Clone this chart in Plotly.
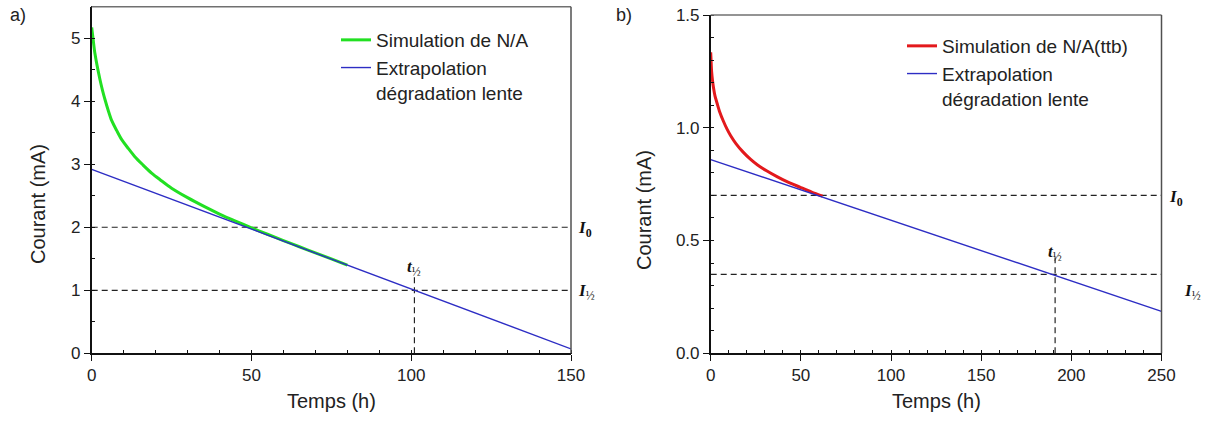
import plotly.graph_objects as go

# ---------------- Panel a) data ----------------
t_a_sim = [0, 0.5, 1, 2.6, 3.4, 4.2, 5.2, 6.2, 7.8, 9.4, 11.5, 13.5, 16, 18.75, 21.5,
           25, 30, 35, 40, 45, 50, 55, 60, 65, 70, 75, 80]
i_a_sim = [5.17, 4.96, 4.76, 4.34, 4.17, 4.02, 3.85, 3.70, 3.537, 3.39, 3.247, 3.12,
           2.991, 2.86, 2.751, 2.62, 2.47, 2.335, 2.21, 2.098, 1.992, 1.889, 1.789,
           1.691, 1.594, 1.497, 1.40]
t_a_ext = [0, 150]
i_a_ext = [2.92, 0.07]
I0_a = 2.0
Ihalf_a = 1.0
thalf_a = 101

# ---------------- Panel b) data ----------------
t_b_sim = [0, 0.2, 0.5, 1, 1.6, 2.4, 3.5, 5, 7, 9, 11, 14, 18, 22, 26, 31, 37, 42,
           50, 56, 62]
i_b_sim = [1.335, 1.30, 1.25, 1.21, 1.175, 1.14, 1.11, 1.07, 1.03, 0.995, 0.966,
           0.930, 0.892, 0.861, 0.835, 0.809, 0.782, 0.762, 0.735, 0.715, 0.697]
t_b_ext = [0, 250]
i_b_ext = [0.859, 0.186]
I0_b = 0.70
Ihalf_b = 0.35
thalf_b = 191

names_a = ["Simulation de N/A", "Extrapolation<br>dégradation lente"]
names_b = ["Simulation de N/A(ttb)", "Extrapolation<br>dégradation lente"]

SANS = "Liberation Sans, Arial, sans-serif"
SERIF = "Liberation Serif, Times New Roman, serif"
W, H = 1206, 421
BLUE = "#2d2dc4"
GREEN = "#22e022"
RED = "#e3191c"
DASH = "#222222"
DASHPAT = "6px,4px"

fig = go.Figure()
fig.add_trace(go.Scatter(x=t_a_sim, y=i_a_sim, mode="lines", name=names_a[0],
                         line=dict(color=GREEN, width=3, shape="spline", smoothing=0.8),
                         xaxis="x", yaxis="y", legend="legend"))
fig.add_trace(go.Scatter(x=t_a_ext, y=i_a_ext, mode="lines", name=names_a[1],
                         line=dict(color=BLUE, width=1.4), xaxis="x", yaxis="y",
                         legend="legend"))
fig.add_trace(go.Scatter(x=t_b_sim, y=i_b_sim, mode="lines", name=names_b[0],
                         line=dict(color=RED, width=3, shape="spline", smoothing=0.8),
                         xaxis="x2", yaxis="y2", legend="legend2"))
fig.add_trace(go.Scatter(x=t_b_ext, y=i_b_ext, mode="lines", name=names_b[1],
                         line=dict(color=BLUE, width=1.4), xaxis="x2", yaxis="y2",
                         legend="legend2"))

def px_x(p):
    return p / W

def px_y(p):
    return (H - p) / H

axis_common = dict(showline=True, linecolor="#111111", linewidth=1.5, mirror=False,
                   showgrid=False, zeroline=False, ticks="outside", ticklen=6,
                   tickwidth=1.3, tickcolor="#111111", automargin=False,
                   tickfont=dict(family=SANS, size=17, color="#222222"))
minor_common = dict(ticks="inside", ticklen=4, tickcolor="#111111", tickwidth=1.2)

fig.update_layout(
    width=W, height=H,
    margin=dict(l=0, r=0, t=0, b=0, autoexpand=False),
    paper_bgcolor="white", plot_bgcolor="white",
    xaxis=dict(domain=[px_x(91.7), px_x(571)], range=[0, 150], anchor="y",
               tickvals=[0, 50, 100, 150], minor=dict(dtick=10, **minor_common),
               **axis_common),
    yaxis=dict(domain=[px_y(353.3), px_y(6.7)], range=[0, 5.5], anchor="x",
               tickvals=[0, 1, 2, 3, 4, 5], minor=dict(dtick=0.5, **minor_common),
               **axis_common),
    xaxis2=dict(domain=[px_x(710.7), px_x(1161.5)], range=[0, 250], anchor="y2",
                tickvals=[0, 50, 100, 150, 200, 250], minor=dict(dtick=10, **minor_common),
                **axis_common),
    yaxis2=dict(domain=[px_y(353.3), px_y(15)], range=[0, 1.5], anchor="x2",
                tickvals=[0, 0.5, 1.0, 1.5], tickformat=".1f",
                minor=dict(dtick=0.1, **minor_common),
                **axis_common),
    legend=dict(x=px_x(336), y=px_y(21), xanchor="left", yanchor="top",
                bgcolor="rgba(0,0,0,0)", font=dict(family=SANS, size=19, color="#222222"),
                valign="top", tracegroupgap=0),
    legend2=dict(x=px_x(902), y=px_y(27), xanchor="left", yanchor="top",
                 bgcolor="rgba(0,0,0,0)", font=dict(family=SANS, size=19, color="#222222"),
                 valign="top", tracegroupgap=0),
    showlegend=True,
)

shapes = []
# grey frame (top / right)
for xr, yr in (("x domain", "y domain"), ("x2 domain", "y2 domain")):
    shapes.append(dict(type="line", xref=xr, yref=yr, x0=0, x1=1, y0=1, y1=1,
                       line=dict(color="#707070", width=1.5)))
    shapes.append(dict(type="line", xref=xr, yref=yr, x0=1, x1=1, y0=0, y1=1,
                       line=dict(color="#505050", width=1.5)))

# dashed reference lines
for xr, yr, xmax, I0, Ih, th, vtop in (("x", "y", 150, I0_a, Ihalf_a, thalf_a, Ihalf_a + 0.21),
                                       ("x2", "y2", 250, I0_b, Ihalf_b, thalf_b, Ihalf_b + 0.09)):
    for yv in (I0, Ih):
        shapes.append(dict(type="line", xref=xr, yref=yr, x0=0, x1=xmax, y0=yv, y1=yv,
                           line=dict(color=DASH, width=1.2, dash=DASHPAT), layer="below"))
    shapes.append(dict(type="line", xref=xr, yref=yr, x0=th, x1=th, y0=0, y1=vtop,
                       line=dict(color=DASH, width=1.2, dash=DASHPAT), layer="below"))
fig.update_layout(shapes=shapes)

ann = []
I0_txt = "<b><i>I</i><sub>0</sub></b>"
Ih_txt = "<b><i>I</i></b><sub>½</sub>"
th_txt = "<b><i>t</i></b><sub>½</sub>"
serif_font = dict(family=SERIF, size=17, color="#111111")

# panel a labels
ann.append(dict(xref="x domain", yref="y", x=1, y=I0_a, text=I0_txt, showarrow=False,
                xanchor="left", yanchor="middle", xshift=5, yshift=-2, font=serif_font))
ann.append(dict(xref="x domain", yref="y", x=1, y=Ihalf_a, text=Ih_txt, showarrow=False,
                xanchor="left", yanchor="middle", xshift=5, yshift=-2, font=serif_font))
ann.append(dict(xref="x", yref="y", x=thalf_a, y=Ihalf_a, text=th_txt, showarrow=False,
                xanchor="center", yanchor="middle", yshift=22, font=serif_font))
# panel b labels
ann.append(dict(xref="x2 domain", yref="y2", x=1, y=I0_b, text=I0_txt, showarrow=False,
                xanchor="left", yanchor="middle", xshift=5, yshift=-3, font=serif_font))
ann.append(dict(xref="x2 domain", yref="y2", x=1, y=Ihalf_b, text=Ih_txt, showarrow=False,
                xanchor="left", yanchor="middle", xshift=20, yshift=-18, font=serif_font))
ann.append(dict(xref="x2", yref="y2", x=thalf_b, y=Ihalf_b, text=th_txt, showarrow=False,
                xanchor="center", yanchor="middle", yshift=21, font=serif_font))

# axis titles
title_font = dict(family=SANS, size=20, color="#222222")
ann.append(dict(xref="x domain", yref="paper", x=0.5, y=px_y(401), text="Temps (h)",
                showarrow=False, xanchor="center", yanchor="middle", font=title_font))
ann.append(dict(xref="x2 domain", yref="paper", x=0.5, y=px_y(401), text="Temps (h)",
                showarrow=False, xanchor="center", yanchor="middle", font=title_font))
ann.append(dict(xref="paper", yref="paper", x=px_x(38), y=px_y(204), text="Courant (mA)",
                showarrow=False, xanchor="center", yanchor="middle", textangle=-90,
                font=title_font))
ann.append(dict(xref="paper", yref="paper", x=px_x(644), y=px_y(210), text="Courant (mA)",
                showarrow=False, xanchor="center", yanchor="middle", textangle=-90,
                font=title_font))

# panel letters
ann.append(dict(xref="paper", yref="paper", x=px_x(8), y=px_y(3), text="a)",
                showarrow=False, xanchor="left", yanchor="top",
                font=dict(family=SANS, size=18, color="#222222")))
ann.append(dict(xref="paper", yref="paper", x=px_x(614), y=px_y(3), text="b)",
                showarrow=False, xanchor="left", yanchor="top",
                font=dict(family=SANS, size=18, color="#222222")))
fig.update_layout(annotations=ann)

fig.write_html("out.html", config={"displayModeBar": False},
               post_script="document.body.style.margin='0';document.body.style.padding='0';")
